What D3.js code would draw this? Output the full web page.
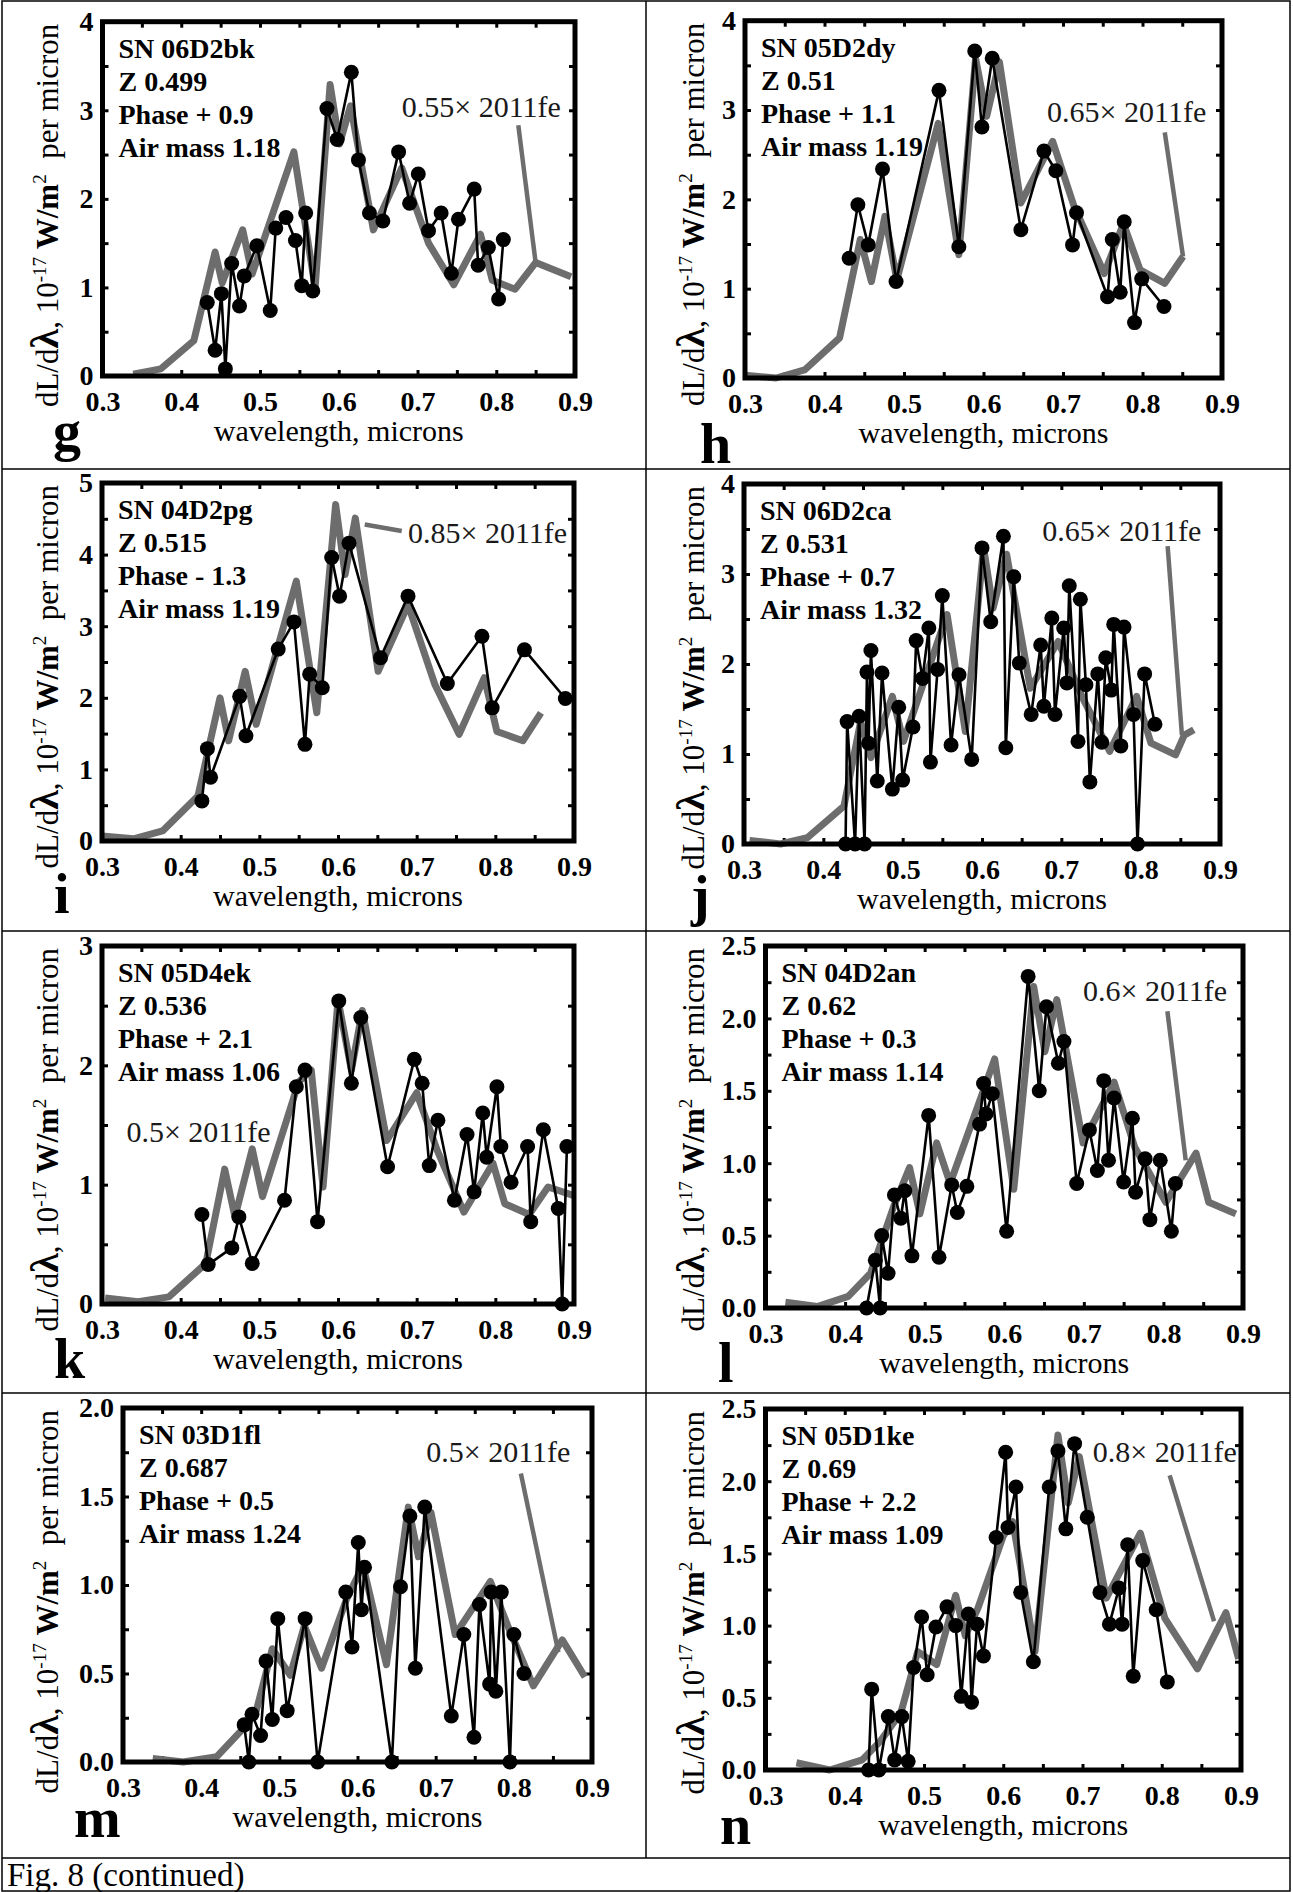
<!DOCTYPE html>
<html>
<head>
<meta charset="utf-8">
<script src="https://cdn.jsdelivr.net/npm/d3@7"></script>
<style>
  body { margin: 0; background: #fff; }
  svg text { font-family: "Liberation Serif", "Times New Roman", serif; }
</style>
</head>
<body>
<svg id="fig" width="1293" height="1892"></svg>
<script>
// ---- panel meta ----
const letters = ['g', 'h', 'i', 'j', 'k', 'l', 'm', 'n'];
const names = ['SN 06D2bk', 'SN 05D2dy', 'SN 04D2pg', 'SN 06D2ca', 'SN 05D4ek', 'SN 04D2an', 'SN 03D1fl', 'SN 05D1ke'];
const redshifts = ['0.499', '0.51', '0.515', '0.531', '0.536', '0.62', '0.687', '0.69'];
const phases = ['+ 0.9', '+ 1.1', '- 1.3', '+ 0.7', '+ 2.1', '+ 0.3', '+ 0.5', '+ 2.2'];
const airMasses = ['1.18', '1.19', '1.19', '1.32', '1.06', '1.14', '1.24', '1.09'];
const scales = ['0.55', '0.65', '0.85', '0.65', '0.5', '0.6', '0.5', '0.8'];
const yMaxes = [4, 4, 5, 4, 3, 2.5, 2, 2.5];

// ---- observed spectra (wavelength in microns, flux) ----
const waveG = [0.433,0.443,0.451,0.456,0.464,0.474,0.480,0.496,0.513,0.520,0.533,0.545,0.553,0.558,0.567,0.585,0.598,0.616,0.625,0.639,0.656,0.676,0.690,0.701,0.714,0.730,0.743,0.752,0.772,0.777,0.790,0.803,0.809];
const fluxG = [0.83,0.29,0.93,0.08,1.27,0.79,1.13,1.47,0.74,1.67,1.79,1.53,1.02,1.84,0.96,3.02,2.67,3.43,2.44,1.84,1.75,2.53,1.95,2.28,1.64,1.84,1.16,1.77,2.11,1.25,1.45,0.87,1.54];
const waveH = [0.431,0.442,0.455,0.473,0.490,0.544,0.569,0.589,0.598,0.611,0.647,0.676,0.691,0.712,0.717,0.756,0.762,0.772,0.777,0.790,0.799,0.827];
const fluxH = [1.34,1.94,1.49,2.34,1.08,3.22,1.47,3.66,2.81,3.58,1.66,2.54,2.32,1.49,1.85,0.91,1.55,0.96,1.75,0.62,1.11,0.80];
const waveI = [0.427,0.434,0.438,0.475,0.483,0.524,0.544,0.558,0.564,0.580,0.592,0.602,0.614,0.654,0.689,0.739,0.783,0.796,0.837,0.889];
const fluxI = [0.56,1.29,0.89,2.02,1.47,2.68,3.06,1.35,2.33,2.14,3.96,3.42,4.16,2.56,3.42,2.20,2.86,1.86,2.67,1.99];
const waveJ = [0.428,0.430,0.440,0.445,0.452,0.455,0.457,0.460,0.468,0.474,0.487,0.495,0.500,0.513,0.517,0.525,0.533,0.535,0.544,0.550,0.561,0.571,0.587,0.600,0.611,0.627,0.630,0.640,0.647,0.662,0.674,0.678,0.688,0.692,0.703,0.707,0.710,0.721,0.724,0.731,0.736,0.746,0.751,0.756,0.763,0.766,0.775,0.779,0.791,0.796,0.805,0.818];
const fluxJ = [0.00,1.36,0.00,1.42,0.00,1.91,1.12,2.15,0.70,1.90,0.61,1.52,0.71,1.30,2.26,1.84,2.40,0.91,1.94,2.76,1.10,1.88,0.94,3.29,2.47,3.42,1.07,2.97,2.01,1.44,2.21,1.53,2.51,1.44,2.40,1.79,2.87,1.14,2.72,1.77,0.69,1.89,1.13,2.07,1.71,2.44,1.09,2.41,1.44,0.00,1.89,1.33];
const waveK = [0.427,0.435,0.465,0.474,0.491,0.532,0.547,0.558,0.574,0.601,0.617,0.629,0.663,0.697,0.707,0.716,0.727,0.748,0.764,0.773,0.784,0.789,0.802,0.807,0.820,0.841,0.845,0.861,0.880,0.885,0.891];
const fluxK = [0.75,0.33,0.47,0.73,0.34,0.87,1.82,1.96,0.69,2.54,1.85,2.40,1.15,2.05,1.85,1.16,1.54,0.87,1.42,0.94,1.60,1.23,1.82,1.32,1.02,1.32,0.69,1.46,0.80,0.00,1.32];
const waveL = [0.427,0.438,0.444,0.446,0.454,0.462,0.470,0.475,0.484,0.505,0.518,0.534,0.541,0.553,0.569,0.574,0.577,0.585,0.603,0.630,0.644,0.653,0.668,0.675,0.691,0.707,0.717,0.725,0.731,0.738,0.750,0.761,0.765,0.777,0.783,0.796,0.810,0.815];
const fluxL = [0.00,0.33,0.00,0.50,0.24,0.78,0.62,0.81,0.36,1.33,0.35,0.85,0.66,0.84,1.27,1.55,1.34,1.48,0.53,2.29,1.50,2.08,1.69,1.84,0.86,1.23,0.95,1.57,1.02,1.45,0.87,1.31,0.80,1.03,0.61,1.02,0.53,0.86];
const waveM = [0.455,0.461,0.465,0.476,0.483,0.491,0.498,0.510,0.533,0.549,0.585,0.593,0.601,0.605,0.609,0.644,0.655,0.667,0.674,0.686,0.720,0.736,0.749,0.756,0.769,0.771,0.777,0.784,0.795,0.800,0.813];
const fluxM = [0.21,0.00,0.27,0.15,0.57,0.24,0.81,0.29,0.81,0.00,0.96,0.65,1.24,0.86,1.10,0.00,0.99,1.39,0.53,1.44,0.26,0.72,0.14,0.89,0.44,0.96,0.40,0.96,0.00,0.72,0.50];
const waveN = [0.430,0.434,0.443,0.455,0.463,0.472,0.480,0.487,0.497,0.504,0.515,0.529,0.540,0.547,0.556,0.560,0.567,0.575,0.591,0.603,0.606,0.616,0.622,0.638,0.658,0.669,0.679,0.690,0.706,0.722,0.734,0.746,0.750,0.757,0.764,0.776,0.793,0.807];
const fluxN = [0.00,0.56,0.00,0.37,0.07,0.37,0.06,0.71,1.06,0.66,0.99,1.13,1.00,0.51,1.08,0.47,1.01,0.79,1.61,2.20,1.68,1.96,1.23,0.75,1.96,2.21,1.67,2.26,1.75,1.23,1.01,1.26,1.01,1.56,0.65,1.45,1.11,0.61];

// ---- scaled 2011fe template ----
const tmplWaveG = [0.339,0.374,0.416,0.443,0.452,0.478,0.490,0.543,0.570,0.589,0.601,0.615,0.644,0.680,0.714,0.746,0.780,0.795,0.824,0.850,0.895];
const tmplFluxG = [0.02,0.08,0.40,1.40,1.05,1.65,1.15,2.53,1.00,3.29,2.62,3.05,1.65,2.35,1.50,1.03,1.60,1.08,0.98,1.28,1.12];
const tmplWaveH = [0.300,0.339,0.375,0.419,0.445,0.459,0.476,0.491,0.543,0.569,0.590,0.604,0.620,0.647,0.687,0.714,0.752,0.776,0.797,0.828,0.851];
const tmplFluxH = [0.03,0.00,0.09,0.45,1.55,1.08,1.81,1.10,2.85,1.38,3.58,2.93,3.54,1.96,2.65,1.92,1.17,1.73,1.21,1.06,1.36];
const tmplWaveI = [0.300,0.340,0.377,0.422,0.450,0.461,0.482,0.496,0.547,0.573,0.597,0.609,0.622,0.651,0.689,0.723,0.754,0.786,0.802,0.835,0.858];
const tmplFluxI = [0.07,0.03,0.14,0.63,2.00,1.40,2.37,1.63,3.63,1.79,4.70,3.72,4.51,2.37,3.30,2.19,1.49,2.28,1.53,1.40,1.79];
const tmplWaveJ = [0.307,0.346,0.380,0.426,0.447,0.460,0.487,0.501,0.556,0.579,0.602,0.614,0.631,0.661,0.696,0.727,0.761,0.795,0.813,0.844,0.855,0.867];
const tmplFluxJ = [0.04,0.00,0.07,0.42,1.36,0.96,1.64,1.14,2.55,1.25,3.29,2.62,3.22,1.73,2.25,1.62,1.03,1.64,1.12,0.99,1.21,1.27];
const tmplWaveK = [0.304,0.346,0.385,0.432,0.456,0.469,0.491,0.504,0.550,0.566,0.581,0.600,0.617,0.631,0.662,0.700,0.726,0.760,0.797,0.812,0.843,0.867,0.899];
const tmplFluxK = [0.05,0.02,0.06,0.34,1.13,0.73,1.30,0.90,1.86,1.96,0.98,2.55,1.96,2.46,1.37,1.77,1.29,0.77,1.18,0.84,0.75,0.98,0.91];
const tmplWaveL = [0.325,0.365,0.404,0.432,0.461,0.481,0.494,0.515,0.532,0.588,0.612,0.637,0.651,0.666,0.699,0.738,0.764,0.803,0.841,0.857,0.891];
const tmplFluxL = [0.04,0.01,0.08,0.24,0.70,0.97,0.65,1.14,0.86,1.72,0.82,2.22,1.77,2.13,1.14,1.56,1.11,0.73,1.07,0.73,0.65];
const tmplWaveM = [0.338,0.377,0.420,0.454,0.470,0.491,0.514,0.532,0.554,0.586,0.607,0.637,0.665,0.678,0.694,0.725,0.770,0.794,0.825,0.862,0.891];
const tmplFluxM = [0.02,0.00,0.03,0.19,0.28,0.64,0.49,0.77,0.53,0.92,1.11,0.55,1.44,1.16,1.41,0.72,1.02,0.75,0.43,0.69,0.48];
const tmplWaveN = [0.339,0.381,0.422,0.445,0.471,0.492,0.516,0.540,0.552,0.568,0.600,0.612,0.640,0.669,0.682,0.696,0.730,0.773,0.804,0.845,0.881,0.897];
const tmplFluxN = [0.05,0.00,0.07,0.20,0.40,0.82,0.73,1.21,0.93,1.12,1.62,1.72,0.82,2.32,1.85,2.17,1.19,1.64,1.05,0.70,1.09,0.77];

// template label anchors and pointer segments, in data units
const labelAt = [[0.680,2.92],[0.680,2.87],[0.689,4.16],[0.676,3.37],[0.331,1.357],[0.699,2.12],[0.688,1.695],[0.713,2.133]];
const pointers = [
  [[0.828,2.83],[0.850,1.28]],
  [[0.828,2.75],[0.851,1.36]],
  [[0.634,4.42],[0.681,4.33]],
  [[0.834,3.31],[0.852,1.21]],
  null,
  [[0.805,2.05],[0.828,1.02]],
  [[0.809,1.63],[0.857,0.62]],
  [[0.810,2.04],[0.866,1.03]]
];

const observed = [[waveG, fluxG], [waveH, fluxH], [waveI, fluxI], [waveJ, fluxJ], [waveK, fluxK], [waveL, fluxL], [waveM, fluxM], [waveN, fluxN]];
const templates = [[tmplWaveG, tmplFluxG], [tmplWaveH, tmplFluxH], [tmplWaveI, tmplFluxI], [tmplWaveJ, tmplFluxJ],
                   [tmplWaveK, tmplFluxK], [tmplWaveL, tmplFluxL], [tmplWaveM, tmplFluxM], [tmplWaveN, tmplFluxN]];

// layout: cell origin, plot box, letter offset
const cells = [[0,0],[646,0],[0,469],[646,469],[0,931],[646,931],[0,1393],[646,1393]];
const boxes = [[102.5,21.7,472.5,354.3],[745,20.7,477,357.3],[102,483,472,358],[744,484,476,360],
               [102,946,472,358],[765.5,946,477.5,362],[123,1408,469,354],[765.5,1409,475.5,361]];
const letterPos = [[53,450],[54,463],[54,444],[45,446],[54,447],[72,451],[74,444],[74,451]];

const svg = d3.select('#fig');
svg.append('rect').attr('width', 1293).attr('height', 1892).attr('fill', '#fff');

const zip = (a, b) => a.map((v, i) => [v, b[i]]);
const GRAY = '#6d6d6d';

function drawPanel(p) {
  const [L, T, W, H] = boxes[p];
  const [cx, cy] = cells[p];
  const yMax = yMaxes[p];
  const x = d3.scaleLinear().domain([0.3, 0.9]).range([L, L + W]);
  const y = d3.scaleLinear().domain([0, yMax]).range([T + H, T]);
  const g = svg.append('g');

  const xTicks = d3.range(6, 19).map(k => k / 20);
  const yStep = yMax <= 2.5 ? 0.25 : 0.5;
  const yTicks = d3.range(0, Math.round(yMax / yStep) + 1).map(k => k * yStep);
  const xMajor = v => Math.abs(v * 10 - Math.round(v * 10)) < 1e-6;
  const yMajor = v => Math.abs(v / (2 * yStep) - Math.round(v / (2 * yStep))) < 1e-6;
  const yFmt = yMax <= 2.5 ? d3.format('.1f') : d3.format('d');

  const axes = [
    g.append('g').attr('transform', `translate(0,${T + H})`)
      .call(d3.axisBottom(x).tickValues(xTicks).tickSize(-6).tickPadding(15)
        .tickFormat(v => xMajor(v) ? d3.format('.1f')(v) : '')),
    g.append('g').attr('transform', `translate(0,${T})`)
      .call(d3.axisTop(x).tickValues(xTicks).tickSize(-6).tickFormat('')),
    g.append('g').attr('transform', `translate(${L},0)`)
      .call(d3.axisLeft(y).tickValues(yTicks).tickSize(-6).tickPadding(9)
        .tickFormat(v => yMajor(v) ? yFmt(v) : '')),
    g.append('g').attr('transform', `translate(${L + W},0)`)
      .call(d3.axisRight(y).tickValues(yTicks).tickSize(-6).tickFormat(''))
  ];
  axes.forEach(a => {
    a.select('.domain').remove();
    a.selectAll('.tick line').attr('stroke', '#000').attr('stroke-width', 3);
    a.selectAll('.tick text').attr('fill', '#000')
      .style('font-size', '28px').style('font-weight', 'bold')
      .style('font-family', '"Liberation Serif", "Times New Roman", serif');
  });

  const line = d3.line().x(d => x(d[0])).y(d => y(d[1]));

  // template (gray)
  g.append('path').datum(zip(templates[p][0], templates[p][1]))
    .attr('d', line).attr('fill', 'none').attr('stroke', GRAY)
    .attr('stroke-width', 7).attr('stroke-linejoin', 'round').attr('stroke-linecap', 'butt');

  // pointer from label to template
  if (pointers[p]) {
    g.append('path').datum(pointers[p]).attr('d', line)
      .attr('fill', 'none').attr('stroke', GRAY).attr('stroke-width', 4.5);
  }

  // observed spectrum
  const obs = zip(observed[p][0], observed[p][1]);
  g.append('path').datum(obs).attr('d', line)
    .attr('fill', 'none').attr('stroke', '#000').attr('stroke-width', 2.6)
    .attr('stroke-linejoin', 'round');
  g.selectAll('circle.pt').data(obs).join('circle')
    .attr('class', 'pt')
    .attr('cx', d => x(d[0])).attr('cy', d => y(d[1])).attr('r', 7.5)
    .attr('fill', '#000');

  // frame
  g.append('rect').attr('x', L).attr('y', T).attr('width', W).attr('height', H)
    .attr('fill', 'none').attr('stroke', '#000').attr('stroke-width', 5);

  // template label
  g.append('text').attr('x', x(labelAt[p][0])).attr('y', y(labelAt[p][1]))
    .attr('fill', '#1a1a1a').style('font-size', '30px')
    .text(`${scales[p]}\u00d7 2011fe`);

  // info block
  const info = [names[p], `Z ${redshifts[p]}`, `Phase ${phases[p]}`, `Air mass ${airMasses[p]}`];
  g.selectAll('text.info').data(info).join('text')
    .attr('class', 'info')
    .attr('x', L + 16).attr('y', (d, i) => T + 36 + i * 33)
    .style('font-size', '28px').style('font-weight', 'bold')
    .text(d => d);

  // x label
  g.append('text').attr('x', L + W / 2).attr('y', T + H + 65)
    .attr('text-anchor', 'middle').style('font-size', '30px')
    .text('wavelength, microns');

  // y label, reads upward and ends at the top of the frame
  const yl = g.append('text')
    .attr('transform', `translate(${cx + 58},${T + 2}) rotate(-90)`)
    .attr('text-anchor', 'end').style('font-size', '31px').style('white-space', 'pre');
  yl.append('tspan').text('dL/d');
  yl.append('tspan').style('font-weight', 'bold').style('font-size', '40px').text('\u03bb');
  yl.append('tspan').text(', 10');
  yl.append('tspan').attr('dy', -12).style('font-size', '19px').text('-17');
  yl.append('tspan').attr('dy', 12).style('font-weight', 'bold').text(' W/m');
  yl.append('tspan').attr('dy', -12).style('font-size', '19px').text('2');
  yl.append('tspan').attr('dy', 12).text('  per micron');

  // panel letter
  g.append('text').attr('x', cx + letterPos[p][0]).attr('y', cy + letterPos[p][1])
    .style('font-size', '56px').style('font-weight', 'bold').text(letters[p]);
}

letters.forEach((_, p) => drawPanel(p));

// table grid
const grid = svg.append('g').attr('stroke', '#000').attr('stroke-width', 1.5).attr('fill', 'none');
grid.append('rect').attr('x', 2).attr('y', 1).attr('width', 1288).attr('height', 1890);
[469, 931, 1393, 1858].forEach(v => grid.append('line').attr('x1', 2).attr('x2', 1290).attr('y1', v).attr('y2', v));
grid.append('line').attr('x1', 646).attr('x2', 646).attr('y1', 1).attr('y2', 1858);

svg.append('text').attr('x', 7).attr('y', 1886).style('font-size', '33px').text('Fig. 8 (continued)');
</script>
</body>
</html>
